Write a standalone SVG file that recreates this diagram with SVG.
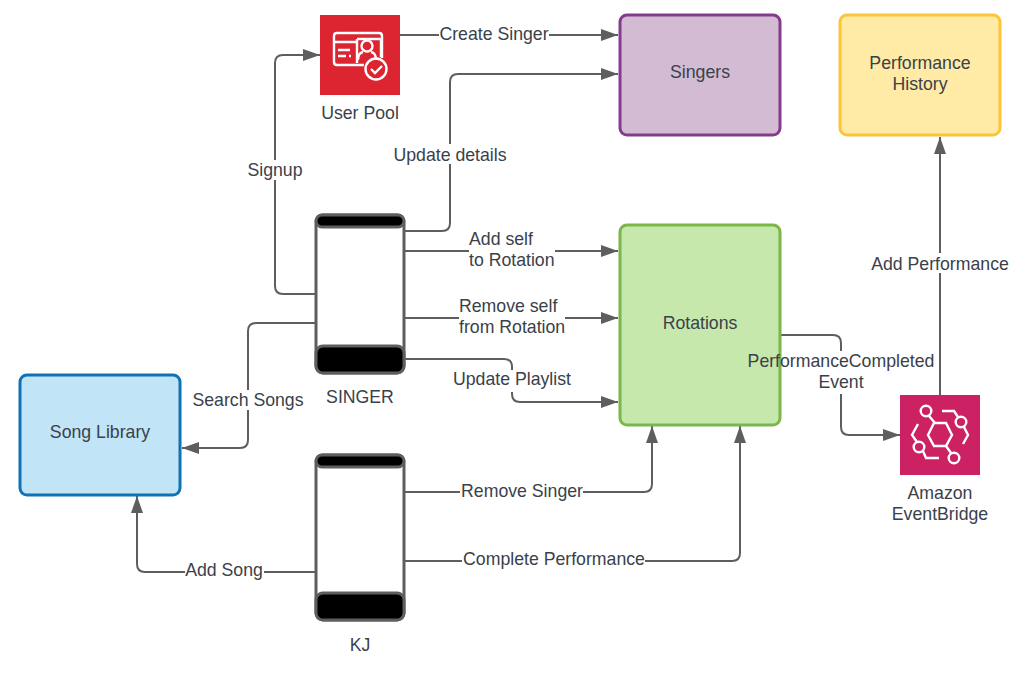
<svg xmlns="http://www.w3.org/2000/svg" width="1027" height="674" viewBox="0 0 1027 674">
<style>
text{font-family:"Liberation Sans",Arial,sans-serif;font-size:17.7px;fill:#3a414a;text-anchor:middle;transform:translateY(.6px)}
.c{fill:none;stroke:#5e5e5e;stroke-width:2}
.box{stroke-width:3}
.ic{fill:none;stroke:#fff;stroke-width:2.4}
.ph{fill:#fff;stroke:#5e5e5e;stroke-width:3}
.bar{fill:#000;stroke:#5e5e5e;stroke-width:3}
.l{fill:#fff}
.s{text-anchor:start}
</style>
<defs><marker id="a" markerUnits="userSpaceOnUse" markerWidth="19" markerHeight="14" refX="17" refY="6" orient="auto"><path d="M0 0L17 6L0 12z" fill="#5e5e5e"/></marker></defs>
<rect width="1027" height="674" fill="#fff"/>
<g id="connectors">
<path class="c" marker-end="url(#a)" d="M400 35H618"/>
<path class="c" marker-end="url(#a)" d="M404 231H442Q450 231 450 223V82Q450 74 458 74H618"/>
<path class="c" marker-end="url(#a)" d="M404 251H618"/>
<path class="c" marker-end="url(#a)" d="M404 318H618"/>
<path class="c" marker-end="url(#a)" d="M404 359H504Q512 359 512 367V394Q512 402 520 402H618"/>
<path class="c" marker-end="url(#a)" d="M316 294H283Q275 294 275 286V63Q275 55 283 55H320"/>
<path class="c" marker-end="url(#a)" d="M316 323H256Q248 323 248 331V440Q248 448 240 448H182"/>
<path class="c" marker-end="url(#a)" d="M404 492H644Q652 492 652 484V426"/>
<path class="c" marker-end="url(#a)" d="M404 561H732Q740 561 740 553V426"/>
<path class="c" marker-end="url(#a)" d="M316 572H145Q137 572 137 564V496"/>
<path class="c" marker-end="url(#a)" d="M780 335H833Q841 335 841 343V427Q841 435 849 435H900"/>
<path class="c" marker-end="url(#a)" d="M940 395V137"/>
</g>
<g id="label-backs">
<rect class="l" x="439" y="24" width="110" height="20"/>
<rect class="l" x="393" y="144" width="114" height="20"/>
<rect class="l" x="247" y="160" width="56" height="20"/>
<rect class="l" x="469" y="228" width="86" height="42"/>
<rect class="l" x="459" y="295" width="106" height="42"/>
<rect class="l" x="452" y="370" width="120" height="22"/>
<rect class="l" x="193" y="390" width="111" height="20"/>
<rect class="l" x="460" y="481" width="123" height="20"/>
<rect class="l" x="462" y="549" width="183" height="20"/>
<rect class="l" x="185" y="560" width="79" height="20"/>
<rect class="l" x="782" y="351" width="153" height="43"/>
<rect class="l" x="871" y="253" width="138" height="20"/>
</g>
<g id="singers"><rect class="box" x="620" y="15" width="160" height="120" rx="7" fill="#d3bcd3" stroke="#833b8b"/><text x="700" y="77">Singers</text></g>
<g id="history"><rect class="box" x="840" y="15" width="160" height="120" rx="7" fill="#ffeaa6" stroke="#fcc438"/><text x="920" y="68">Performance</text><text x="920" y="89">History</text></g>
<g id="rotations"><rect class="box" x="620" y="225" width="160" height="200" rx="7" fill="#c7e8ac" stroke="#7ab648"/><text x="700" y="328">Rotations</text></g>
<g id="library"><rect class="box" x="20" y="375" width="160" height="120" rx="7" fill="#c1e4f7" stroke="#1071b5"/><text x="100" y="437">Song Library</text></g>
<g id="userpool">
<rect x="320" y="15" width="80" height="80" fill="#dd2531"/>
<path class="ic" d="M364 65H337Q334 65 334 62V36Q334 33 337 33H379Q382 33 382 36V58M334 42H356"/>
<path class="ic" d="M357 39H381V57M357 39V63"/>
<circle class="ic" cx="367" cy="46" r="5.5"/>
<path class="ic" d="M358 60Q358 53 363 52M376 60Q376 53 371 52M338 50H350M338 56H346M349 56H351"/>
<circle cx="376" cy="69" r="10.5" fill="#dd2531" stroke="#fff" stroke-width="2.4"/>
<path class="ic" d="M371 69L375 73L382 66"/>
<text x="360" y="118">User Pool</text>
</g>
<g id="eventbridge">
<rect x="900" y="395" width="80" height="80" fill="#cc2264"/>
<path class="ic" d="M928 435L934 423H946L952 435L946 446H934Z"/>
<circle class="ic" cx="926" cy="411" r="5.3"/><circle class="ic" cx="961" cy="422" r="5.3"/><circle class="ic" cx="919" cy="447" r="5.3"/><circle class="ic" cx="954" cy="458" r="5.3"/>
<path class="ic" d="M929 416L935 423M946 446L951 453M942 411H954L958 417M964 427L968 435L963 444M918 424L912 435L917 442M923 451L926 458H939"/>
<text x="940" y="498">Amazon</text><text x="940" y="519">EventBridge</text>
</g>
<g id="singer">
<rect class="ph" x="316" y="215" width="88" height="158" rx="7"/>
<rect class="bar" x="316" y="215" width="88" height="12" rx="6"/>
<rect class="bar" x="316" y="346" width="88" height="27" rx="7"/>
<text x="360" y="402">SINGER</text>
</g>
<g id="kj">
<rect class="ph" x="316" y="455" width="88" height="165" rx="7"/>
<rect class="bar" x="316" y="455" width="88" height="12" rx="6"/>
<rect class="bar" x="316" y="593" width="88" height="27" rx="7"/>
<text x="360" y="650">KJ</text>
</g>
<g id="labels">
<text x="494" y="39">Create Singer</text>
<text x="450" y="160">Update details</text>
<text x="275" y="175">Signup</text>
<text x="469" y="244" class="s">Add self</text><text x="469" y="265" class="s">to Rotation</text>
<text x="459" y="311" class="s">Remove self</text><text x="459" y="332" class="s">from Rotation</text>
<text x="512" y="384">Update Playlist</text>
<text x="248" y="405">Search Songs</text>
<text x="522" y="496">Remove Singer</text>
<text x="554" y="564">Complete Performance</text>
<text x="224" y="575">Add Song</text>
<text x="841" y="366">PerformanceCompleted</text><text x="841" y="387">Event</text>
<text x="940" y="269">Add Performance</text>
</g>
</svg>
